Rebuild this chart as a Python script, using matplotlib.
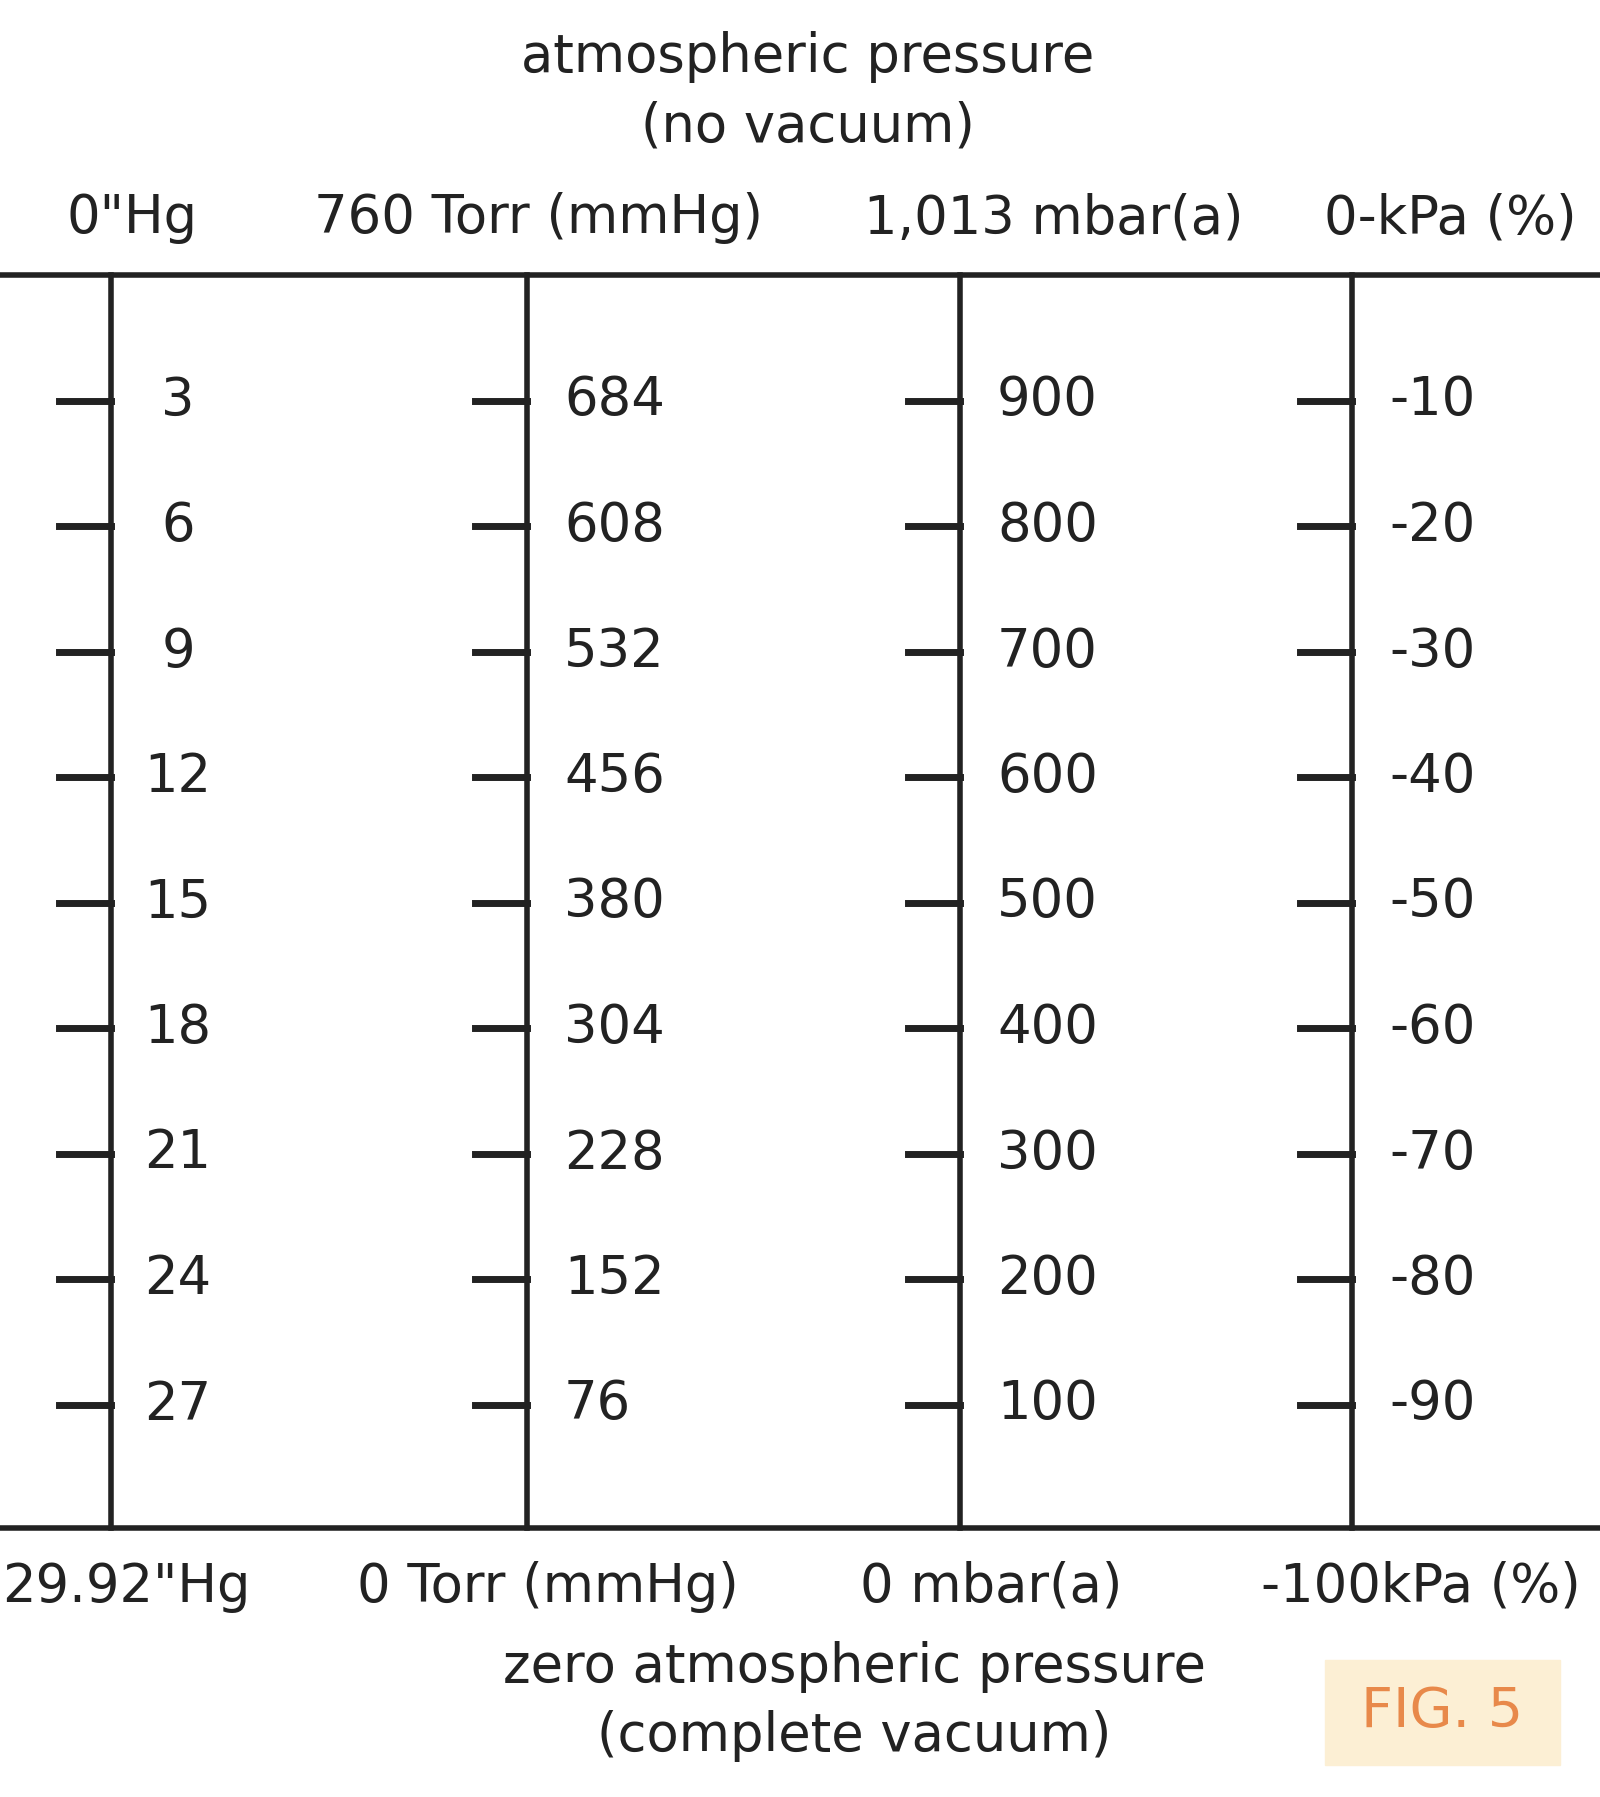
import matplotlib
matplotlib.use("Agg")
import matplotlib.pyplot as plt
from matplotlib.patches import Rectangle

fractions = [0.1, 0.2, 0.3, 0.4, 0.5, 0.6, 0.7, 0.8, 0.9]
hg_labels = ["3", "6", "9", "12", "15", "18", "21", "24", "27"]
torr_labels = ["684", "608", "532", "456", "380", "304", "228", "152", "76"]
mbar_labels = ["900", "800", "700", "600", "500", "400", "300", "200", "100"]
kpa_labels = ["-10", "-20", "-30", "-40", "-50", "-60", "-70", "-80", "-90"]
top_labels = ['0"Hg', "760 Torr (mmHg)", "1,013 mbar(a)", "0-kPa (%)"]
bottom_labels = ['29.92"Hg', "0 Torr (mmHg)", "0 mbar(a)", "-100kPa (%)"]

fig = plt.figure(figsize=(16, 17.97), dpi=100)
ax = fig.add_axes([0, 0, 1, 1])
ax.set_xlim(0, 1600)
y0, span = 275, 1255
ax.set_ylim((1797 - y0) / span, -y0 / span)
ax.axis("off")

def fy(p):
    return (p - y0) / span

fs = 38
col = "#222222"
ax.axhline(0, color=col, lw=4)
ax.axhline(fy(1528), color=col, lw=4)

line_x = [111, 527, 960, 1352]
label_x = [178, 564, 997, 1389]
label_ha = ["center", "left", "left", "left"]
cols = [hg_labels, torr_labels, mbar_labels, kpa_labels]
for lx, tx, ha, labs in zip(line_x, label_x, label_ha, cols):
    ax.plot([lx, lx], [0, fy(1528)], color=col, lw=4)
    for f, s in zip(fractions, labs):
        ax.plot([lx - 52, lx], [f, f], color=col, lw=5)
        ax.text(tx, f, s, ha=ha, va="center", fontsize=fs, color=col)

top_x = [132, 539, 1054, 1450]
bot_x = [126, 548, 991, 1421]
for x, s in zip(top_x, top_labels):
    ax.text(x, fy(218), s, ha="center", va="center", fontsize=fs, color=col)
for x, s in zip(bot_x, bottom_labels):
    ax.text(x, fy(1587), s, ha="center", va="center", fontsize=fs, color=col)

ax.text(808, fy(57), "atmospheric pressure", ha="center", va="center", fontsize=fs, color=col)
ax.text(808, fy(126), "(no vacuum)", ha="center", va="center", fontsize=fs, color=col)
ax.text(854, fy(1667), "zero atmospheric pressure", ha="center", va="center", fontsize=fs, color=col)
ax.text(854, fy(1736), "(complete vacuum)", ha="center", va="center", fontsize=fs, color=col)

ax.add_patch(Rectangle((1325, fy(1765)), 235, fy(1660) - fy(1765), color="#fcefd4", zorder=0))
ax.text(1442, fy(1712), "FIG. 5", ha="center", va="center", fontsize=40, color="#e8894a")

fig.savefig("out.png", dpi=100)
